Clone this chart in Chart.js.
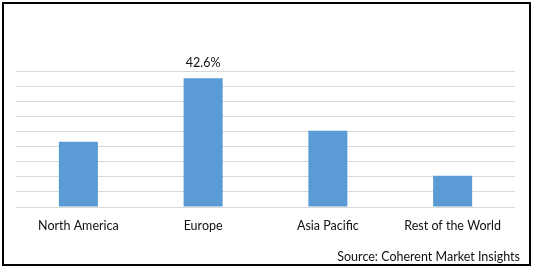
<!DOCTYPE html>
<html>
<head>
<meta charset="utf-8">
<script src="https://cdn.jsdelivr.net/npm/chart.js@4/dist/chart.umd.min.js"></script>
<style>
html,body{margin:0;padding:0;background:#fff;}
#wrap{position:relative;width:533px;height:268px;}
</style>
</head>
<body>
<div id="wrap"><canvas id="c" width="533" height="268"></canvas></div>
<script>
const categories = ["North America", "Europe", "Asia Pacific", "Rest of the World"];
const shareValues = [21.6, 42.6, 25.2, 10.3];
const valueLabels = ["", "42.6%", "", ""];
const yTicks = [0, 5, 10, 15, 20, 25, 30, 35, 40, 45];
const sourceText = "Source: Coherent Market Insights";

const FONT = "Lato, 'Open Sans', sans-serif";
const TEXT_COLOR = '#111';

const framePlugin = {
  id: 'frame',
  beforeDraw(chart) {
    const ctx = chart.ctx;
    ctx.save();
    ctx.fillStyle = '#fff';
    ctx.fillRect(0, 0, chart.width, chart.height);
    ctx.restore();
  },
  afterDraw(chart) {
    const ctx = chart.ctx;
    ctx.save();
    ctx.strokeStyle = '#000';
    ctx.lineWidth = 2;
    ctx.strokeRect(3, 3, 527, 262);
    ctx.fillStyle = TEXT_COLOR;
    ctx.font = "12.5px " + FONT;
    ctx.textAlign = 'right';
    ctx.textBaseline = 'middle';
    ctx.fillText(sourceText, 520, 256.5);
    ctx.restore();
  }
};

const valueLabelPlugin = {
  id: 'valueLabels',
  afterDatasetsDraw(chart) {
    const ctx = chart.ctx;
    const meta = chart.getDatasetMeta(0);
    ctx.save();
    ctx.fillStyle = TEXT_COLOR;
    ctx.font = "12.5px " + FONT;
    ctx.textAlign = 'center';
    ctx.textBaseline = 'middle';
    meta.data.forEach((bar, i) => {
      if (valueLabels[i]) ctx.fillText(valueLabels[i], bar.x, bar.y - 15);
    });
    ctx.restore();
  }
};

new Chart(document.getElementById('c'), {
  type: 'bar',
  data: {
    labels: categories,
    datasets: [{
      data: shareValues,
      backgroundColor: '#5b9bd5',
      barPercentage: 0.313,
      categoryPercentage: 1.0
    }]
  },
  options: {
    responsive: false,
    animation: false,
    devicePixelRatio: 1,
    layout: { padding: { left: 16, right: 18, top: 71, bottom: 0 } },
    plugins: { legend: { display: false }, tooltip: { enabled: false } },
    scales: {
      x: {
        grid: { display: false, drawTicks: false },
        border: { display: false },
        ticks: { color: TEXT_COLOR, font: { family: FONT, size: 12.5 }, padding: 11, maxRotation: 0 },
        afterFit(scale) { scale.height = 61; }
      },
      y: {
        min: yTicks[0],
        max: yTicks[yTicks.length - 1],
        afterBuildTicks(scale) { scale.ticks = yTicks.map(v => ({ value: v })); },
        grid: { color: '#d9d9d9', lineWidth: 1, drawTicks: false },
        border: { display: false },
        ticks: { display: false },
        afterFit(scale) { scale.width = 0; }
      }
    }
  },
  plugins: [framePlugin, valueLabelPlugin]
});
</script>
</body>
</html>
